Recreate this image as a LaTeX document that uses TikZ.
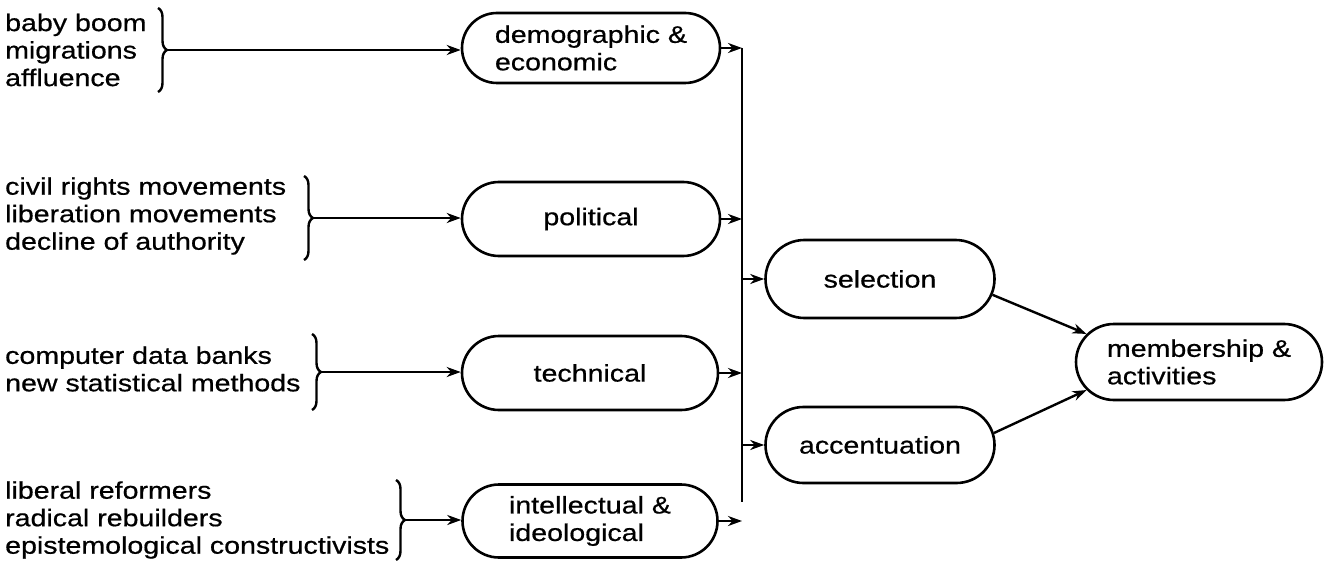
\documentclass[tikz,border=0pt]{standalone}
\usepackage{fontspec}
\setmainfont{Liberation Sans}[FakeStretch=1.19,FakeBold=0.6]
\usetikzlibrary{arrows.meta,decorations.pathreplacing,shapes.misc}
\begin{document}
\begin{tikzpicture}[x=1pt,y=-1pt,
  txt/.style={font=\fontsize{24pt}{27.5pt}\selectfont, align=left, inner sep=0pt},
  grp/.style={txt, anchor=west},
  box/.style={txt, draw, line width=2.6pt, rounded rectangle, rounded rectangle arc length=180, inner xsep=0pt},
  brc/.style={draw, line width=2.4pt, decorate, decoration={brace, amplitude=9pt}},
  arr/.style={line width=2.4pt, -{Stealth[length=14pt,width=10pt]}},
  bus/.style={line width=2.4pt}]
\useasboundingbox (0,0) rectangle (1330,572);

% factor boxes
\node[box, minimum width=258pt, minimum height=70pt] (demo) at (591,48) {demographic \&\\economic};
\node[box, minimum width=258pt, minimum height=74pt] (pol) at (591,219) {political};
\node[box, minimum width=256pt, minimum height=74pt] (tech) at (590,373) {technical};
\node[box, minimum width=255pt, minimum height=73pt] (intel) at (590,521) {intellectual \&\\ideological};

\node[box, minimum width=229pt, minimum height=78pt] (sel) at (880,279) {selection};
\node[box, minimum width=229pt, minimum height=76pt] (acc) at (880,445) {accentuation};
\node[box, minimum width=246pt, minimum height=76pt] (mem) at (1199,362) {membership \&\\activities};

% source groups
\node[grp] (g1) at (5,50) {baby boom\\migrations\\affluence};
\node[grp] (g2) at (5,216) {civil rights movements\\liberation movements\\decline of authority};
\node[grp] (g3) at (5,369) {computer data banks\\new statistical methods};
\node[grp] (g4) at (5,520) {liberal reformers\\radical rebuilders\\epistemological constructivists};

% braces
\draw[brc] (158,8) -- (158,92);
\coordinate (b1) at (168,50);
\draw[brc] (304,176) -- (304,260);
\coordinate (b2) at (314,218);
\draw[brc] (312,334) -- (312,410);
\coordinate (b3) at (322,372);
\draw[brc] (396,480) -- (396,560);
\coordinate (b4) at (406,520);

\draw[arr] (b1) -- (b1 -| demo.west);
\draw[arr] (b2) -- (b2 -| pol.west);
\draw[arr] (b3) -- (b3 -| tech.west);
\draw[arr] (b4) -- (b4 -| intel.west);

% bus
\coordinate (bt) at (742,48);
\coordinate (bb) at (742,502);
\draw[bus] (bt) -- (bb);
\draw[arr] (demo.east) -- (demo.east -| bt);
\draw[arr] (pol.east) -- (pol.east -| bt);
\draw[arr] (tech.east) -- (tech.east -| bt);
\draw[arr] (intel.east) -- (intel.east -| bt);
\draw[arr] (sel.west -| bt) -- (sel.west);
\draw[arr] (acc.west -| bt) -- (acc.west);

\draw[arr] (sel.-8) -- (mem.166);
\draw[arr] (acc.6) -- (mem.-166);
\end{tikzpicture}
\end{document}
